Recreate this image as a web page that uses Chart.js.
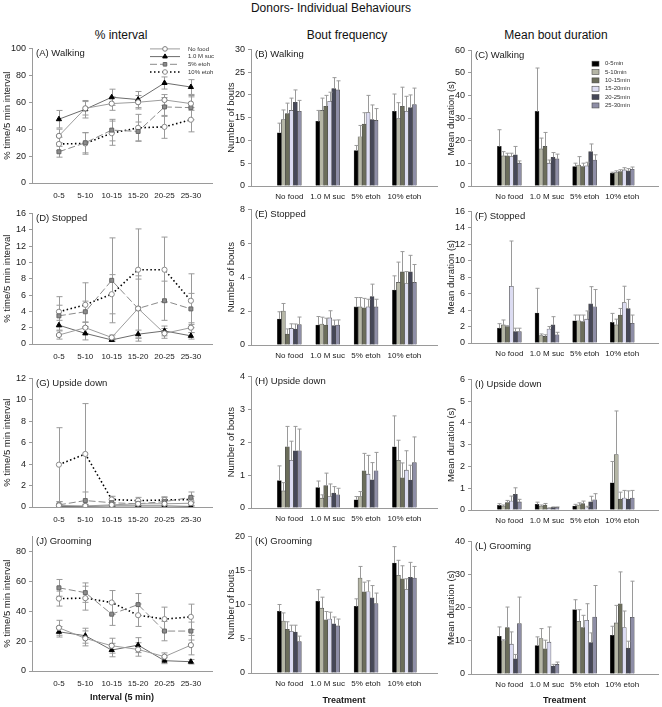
<!DOCTYPE html>
<html lang="en">
<head>
<meta charset="UTF-8" />
<title>Donors- Individual Behaviours</title>
<script src="https://cdn.jsdelivr.net/npm/chart.js"></script>
<style>
  body { margin: 0; background: #fff; font-family: "Liberation Sans", Arial, sans-serif; }
  #page { position: relative; width: 662px; height: 707px; overflow: hidden; }
  canvas { position: absolute; }
  .hdr { position: absolute; transform: translate(-50%, -50%); white-space: nowrap; color: #111; font-size: 12px; }
</style>
</head>
<body>
<div id="page">
  <div class="hdr" style="left:331px;top:8px">Donors- Individual Behaviours</div>
  <div class="hdr" style="left:121px;top:35px">% interval</div>
  <div class="hdr" style="left:347px;top:35px">Bout frequency</div>
  <div class="hdr" style="left:556px;top:35px">Mean bout duration</div>
</div>
<script>
// categories
const intervals = ['0-5', '5-10', '10-15', '15-20', '20-25', '25-30'];
const treatments = ['No food', '1.0 M suc', '5% etoh', '10% etoh'];
const bins = ['0-5min', '5-10min', '10-15min', '15-20min', '20-25min', '25-30min'];

// % interval: rows = No food, 1.0 M suc, 5% etoh, 10% etoh; cols = intervals
const walkPct = [
  [35, 55.5, 59, 60, 61.7, 59],
  [47.4, 54.8, 63.7, 62, 74.3, 71.3],
  [23.2, 29.9, 39.3, 38.3, 56.5, 56],
  [29, 29.4, 37, 41, 41.7, 47]
];
const walkPctErr = [
  [5, 5, 5, 5, 4, 5],
  [6.5, 6.5, 6, 6, 4.5, 5.5],
  [4, 7.5, 8, 7, 7, 9],
  [5, 8, 9, 10, 8.5, 9]
];
const stopPct = [
  [1.1, 2.0, 0.8, 4.35, 1.3, 2.0],
  [2.3, 1.3, 0.5, 1.2, 1.6, 1.0],
  [3.45, 3.95, 7.8, 4.35, 5.3, 4.3],
  [3.95, 4.8, 6.1, 9.1, 9.1, 5.3]
];
const stopPctErr = [
  [0.5, 0.7, 0.3, 4, 0.6, 0.6],
  [0.6, 0.8, 0.2, 0.5, 0.6, 0.4],
  [1.3, 1.3, 5.2, 3.6, 2.4, 1.9],
  [1.85, 2.7, 2.4, 5, 4, 3.3]
];
const upPct = [
  [0.15, 0.1, 0.2, 0.3, 0.3, 0.35],
  [0.05, 0.05, 0.1, 0.1, 0.1, 0.05],
  [0.2, 0.6, 0.4, 0.3, 0.5, 0.9],
  [3.95, 4.95, 0.7, 0.6, 0.65, 0.7]
];
const upPctErr = [
  [0.1, 0.1, 0.15, 0.2, 0.2, 0.2],
  [0.05, 0.05, 0.05, 0.05, 0.05, 0.05],
  [0.3, 0.8, 0.4, 0.3, 0.4, 0.5],
  [3.45, 4.7, 0.3, 0.3, 0.3, 0.3]
];
const groomPct = [
  [28.9, 21.8, 16.9, 14.4, 9.6, 17.3],
  [26.2, 23.6, 14, 17.3, 6.9, 6.2],
  [55.6, 52.4, 38, 44.4, 26.7, 26.7],
  [48.4, 48.7, 45.8, 37.3, 34.7, 36.2]
];
const groomPctErr = [
  [5, 5, 5, 4.5, 2.5, 6.5],
  [3.5, 5, 4.5, 5, 2, 1.5],
  [5.6, 6.5, 7.5, 7.4, 6.5, 6],
  [5, 8, 8, 7.5, 8, 8.5]
];

// bout frequency: rows = treatments; cols = time bins
const walkBouts = [
  [11.7, 14.6, 15.9, 16.6, 18.4, 16.4],
  [14.2, 16.6, 17.5, 18.6, 21.4, 21.1],
  [7.8, 10.8, 13.6, 16.1, 14.6, 14.4],
  [16.4, 14.8, 17.5, 16.4, 17.2, 17.9]
];
const walkBoutsErr = [
  [2.1, 2.1, 2.3, 2.7, 2.7, 2.4],
  [2.4, 2.7, 2.4, 2.0, 2.4, 2.0],
  [1.1, 2.5, 2.5, 3.8, 3.2, 2.6],
  [3.8, 3.5, 4.2, 3.3, 2.8, 3.6]
];
const stopBouts = [
  [1.53, 2.0, 0.65, 0.98, 0.94, 1.2],
  [1.18, 1.24, 1.18, 1.6, 1.14, 1.18],
  [2.25, 2.25, 2.2, 2.25, 2.86, 2.25],
  [3.24, 3.69, 4.31, 3.63, 4.31, 3.69]
];
const stopBoutsErr = [
  [0.43, 0.45, 0.3, 0.27, 0.3, 0.45],
  [0.5, 0.4, 0.4, 0.42, 0.33, 0.3],
  [0.55, 0.55, 0.55, 0.45, 0.73, 0.45],
  [0.84, 1.2, 1.2, 0.7, 0.98, 1.06]
];
const upBouts = [
  [0.83, 0.52, 1.86, 1.45, 1.74, 1.74],
  [0.62, 0.3, 0.68, 0.35, 0.45, 0.4],
  [0.25, 0.35, 1.13, 1.03, 0.86, 1.13],
  [1.86, 1.45, 0.92, 1.15, 0.85, 1.38]
];
const upBoutsErr = [
  [0.45, 0.25, 0.62, 0.58, 0.74, 0.66],
  [0.2, 0.1, 0.38, 0.38, 0.2, 0.2],
  [0.1, 0.15, 0.53, 0.57, 0.52, 0.56],
  [0.94, 0.61, 0.45, 0.59, 0.45, 0.78]
];
const groomBouts = [
  [9.03, 7.6, 6.4, 6.1, 6.0, 4.6],
  [10.5, 9.5, 7.8, 7.9, 7.2, 6.9],
  [9.76, 13.9, 11.9, 11.9, 11.0, 10.15],
  [16.1, 14.3, 13.8, 12.2, 14.0, 13.9]
];
const groomBoutsErr = [
  [1.0, 1.2, 1.1, 0.9, 1.0, 0.8],
  [1.7, 1.6, 1.2, 1.0, 1.0, 1.0],
  [1.1, 1.7, 1.4, 1.6, 1.8, 1.55],
  [2.4, 2.2, 1.9, 1.6, 2.2, 1.7]
];

// mean bout duration (s): rows = treatments; cols = time bins
const walkDur = [
  [17.5, 13.3, 13.3, 13.0, 13.8, 10.1],
  [33.0, 16.4, 17.5, 10.1, 12.7, 12.0],
  [8.6, 9.3, 8.6, 8.9, 15.2, 11.5],
  [5.6, 5.9, 6.4, 7.1, 6.7, 7.4]
];
const walkDurErr = [
  [7.4, 1.9, 1.2, 1.5, 3.7, 1.0],
  [19.2, 4.8, 6.2, 1.4, 2.1, 2.1],
  [1.5, 3.7, 1.5, 1.6, 3.4, 2.3],
  [0.5, 0.8, 0.8, 1.0, 1.0, 1.0]
];
const stopDur = [
  [1.8, 2.2, 2.0, 6.9, 1.4, 1.4],
  [3.65, 0.9, 0.8, 1.7, 2.2, 1.0],
  [2.7, 2.7, 2.6, 2.9, 4.75, 4.4],
  [2.5, 2.2, 3.4, 4.9, 4.2, 2.4]
];
const stopDurErr = [
  [0.55, 0.6, 0.1, 5.5, 0.4, 0.4],
  [3.0, 0.2, 0.2, 0.3, 1.0, 0.3],
  [0.7, 0.7, 0.8, 1.0, 2.1, 2.1],
  [1.1, 0.7, 0.8, 2.0, 1.1, 1.0]
];
const upDur = [
  [0.21, 0.18, 0.34, 0.41, 0.72, 0.37],
  [0.26, 0.18, 0.23, 0.08, 0.12, 0.12],
  [0.18, 0.23, 0.29, 0.1, 0.38, 0.47],
  [1.25, 2.55, 0.5, 0.55, 0.5, 0.55]
];
const upDurErr = [
  [0.08, 0.05, 0.1, 0.23, 0.3, 0.12],
  [0.1, 0.05, 0.07, 0.02, 0.02, 0.02],
  [0.08, 0.1, 0.12, 0.07, 0.25, 0.28],
  [0.98, 2.0, 0.32, 0.35, 0.38, 0.35]
];
const groomDur = [
  [11.4, 10.0, 14.0, 9.0, 4.6, 15.2],
  [8.6, 10.7, 7.6, 9.6, 2.4, 2.9],
  [19.4, 15.9, 14.0, 16.2, 9.5, 17.2],
  [11.7, 15.4, 21.2, 14.0, 7.8, 17.1]
];
const groomDurErr = [
  [2.8, 0.3, 6.2, 3.7, 1.3, 8.0],
  [2.6, 3.0, 2.6, 4.6, 0.5, 0.7],
  [3.0, 3.5, 3.7, 5.0, 2.9, 9.5],
  [2.7, 5.3, 9.6, 5.0, 2.1, 10.9]
];

const FONT = '"Liberation Sans", Arial, sans-serif';
const INK = '#1a1a1a';
const AXIS = '#9a9a9a';
const page = document.getElementById('page');

const lineStyles = [
  { borderColor: '#9c9c9c', borderWidth: 1, borderDash: [], pointStyle: 'circle', pointRadius: 2.6, pointBackgroundColor: '#fff', pointBorderColor: '#7c7c7c' },
  { borderColor: '#6c6c6c', borderWidth: 1, borderDash: [], pointStyle: 'triangle', pointRadius: 3, pointBackgroundColor: '#000', pointBorderColor: '#000' },
  { borderColor: '#8a8a8a', borderWidth: 1, borderDash: [7, 3], pointStyle: 'rect', pointRadius: 2.8, pointBackgroundColor: '#8c8c8c', pointBorderColor: '#666' },
  { borderColor: '#000', borderWidth: 1.6, borderDash: [1.5, 2.5], pointStyle: 'circle', pointRadius: 2.6, pointBackgroundColor: '#fff', pointBorderColor: '#8a8a8a' }
];
const barColors = ['#000000', '#b5b6a6', '#6b6d5b', '#dcdcf2', '#464858', '#8e8ea6'];

function marker(ctx, style, r, x, y) {
  ctx.beginPath();
  if (style === 'triangle') {
    for (let k = 0; k < 3; k++) {
      const a = k * 2 * Math.PI / 3;
      ctx[k ? 'lineTo' : 'moveTo'](x + Math.sin(a) * r, y - Math.cos(a) * r);
    }
    ctx.closePath();
  } else if (style === 'rect') {
    const s = r * Math.SQRT1_2;
    ctx.rect(x - s, y - s, 2 * s, 2 * s);
  } else {
    ctx.arc(x, y, r, 0, Math.PI * 2);
  }
  ctx.fill();
  ctx.stroke();
}

// error bars: whiskers for lines, upward only for bars
function drawErrors(chart) {
  const ctx = chart.ctx, ys = chart.scales.y;
  chart.data.datasets.forEach((ds, i) => {
    if (!ds.errors) return;
    const meta = chart.getDatasetMeta(i);
    ctx.save();
    ctx.strokeStyle = '#9a9a9a';
    ctx.lineWidth = 1;
    meta.data.forEach((el, j) => {
      const v = ds.data[j].y, e = ds.errors[j];
      const x = Math.round(el.x) + 0.5;
      const top = ys.getPixelForValue(v + e);
      const bot = ds.upOnly ? el.y : ys.getPixelForValue(Math.max(0, v - e));
      const c = ds.capW;
      ctx.beginPath();
      ctx.moveTo(x, top); ctx.lineTo(x, bot);
      ctx.moveTo(x - c, top); ctx.lineTo(x + c, top);
      if (!ds.upOnly) { ctx.moveTo(x - c, bot); ctx.lineTo(x + c, bot); }
      ctx.stroke();
    });
    ctx.restore();
  });
}
const errorBars = {
  id: 'errorBars',
  beforeDatasetsDraw(chart) { if (chart.config.type === 'line') drawErrors(chart); },
  afterDatasetsDraw(chart) { if (chart.config.type === 'bar') drawErrors(chart); }
};

const panelLabel = {
  id: 'panelLabel',
  afterDraw(chart, args, o) {
    const { ctx, chartArea } = chart;
    ctx.save();
    ctx.font = '9.5px ' + FONT;
    ctx.fillStyle = INK;
    ctx.textBaseline = 'middle';
    ctx.fillText(o.text, chartArea.left + 4, chartArea.top + 5);
    ctx.restore();
  }
};

const innerLegend = {
  id: 'innerLegend',
  afterDraw(chart, args, o) {
    if (!o || !o.kind) return;
    const { ctx, chartArea } = chart;
    ctx.save();
    ctx.font = '6px ' + FONT;
    ctx.textBaseline = 'middle';
    chart.data.datasets.forEach((ds, k) => {
      const y = chartArea.top + o.dy + k * o.step;
      const x = chartArea.left + o.dx;
      if (o.kind === 'line') {
        ctx.strokeStyle = ds.borderColor;
        ctx.lineWidth = ds.borderWidth;
        ctx.setLineDash(ds.borderDash);
        ctx.beginPath(); ctx.moveTo(x, y); ctx.lineTo(x + o.len, y); ctx.stroke();
        ctx.setLineDash([]);
        ctx.lineWidth = 1;
        ctx.fillStyle = ds.pointBackgroundColor;
        ctx.strokeStyle = ds.pointBorderColor;
        marker(ctx, ds.pointStyle, ds.pointRadius * 0.9, x + o.len / 2, y);
      } else {
        ctx.fillStyle = ds.backgroundColor;
        ctx.strokeStyle = '#4a4a4a';
        ctx.lineWidth = 0.6;
        ctx.fillRect(x, y - 2.5, 7, 5);
        ctx.strokeRect(x, y - 2.5, 7, 5);
      }
      ctx.fillStyle = '#333';
      ctx.fillText(ds.label, chartArea.left + o.tx, y);
    });
    ctx.restore();
  }
};

Chart.register(errorBars, panelLabel, innerLegend);

function lineSets(vals, errs) {
  return treatments.map((name, s) => Object.assign({
    label: name,
    data: intervals.map((_, i) => ({ x: i, y: vals[s][i] })),
    errors: errs[s],
    capW: 3,
    fill: false,
    tension: 0,
    pointBorderWidth: 1,
    pointHoverRadius: 0
  }, lineStyles[s]));
}

function barSets(vals, errs) {
  return bins.map((name, k) => ({
    label: name,
    data: treatments.map((_, i) => ({ x: i, y: vals[i][k] })),
    errors: treatments.map((_, i) => errs[i][k]),
    backgroundColor: barColors[k],
    borderColor: '#4a4a4a',
    borderWidth: 0.6,
    barThickness: 4,
    upOnly: true,
    capW: 2
  }));
}

function panel(p) {
  const [L, T, R, B] = p.area;
  const padTop = 8, padRight = 4;
  const cv = document.createElement('canvas');
  const w = R - L + p.yW + padRight, h = B - T + padTop + p.xH;
  cv.width = w; cv.height = h;
  cv.style.left = (L - p.yW) + 'px';
  cv.style.top = (T - padTop) + 'px';
  cv.style.width = w + 'px';
  cv.style.height = h + 'px';
  page.appendChild(cv);
  const labels = p.labels;
  return new Chart(cv, {
    type: p.type,
    data: { datasets: p.datasets },
    options: {
      responsive: false,
      maintainAspectRatio: false,
      animation: false,
      devicePixelRatio: 1,
      layout: { padding: { top: padTop, right: padRight, left: 0, bottom: 0 } },
      plugins: {
        legend: { display: false },
        tooltip: { enabled: false },
        panelLabel: { text: p.letter },
        innerLegend: p.legend || false
      },
      scales: {
        x: {
          type: 'linear', min: p.xMin, max: p.xMax, offset: false,
          afterBuildTicks: s => { s.ticks = labels.map((_, i) => ({ value: i })); },
          afterFit: s => { s.height = p.xH; },
          grid: { display: false, drawTicks: false, tickLength: 0 },
          border: { color: AXIS },
          ticks: {
            autoSkip: false, maxRotation: 0, minRotation: 0, padding: p.xPad,
            color: INK, font: { size: 8, family: FONT },
            callback: v => labels[v]
          },
          title: {
            display: !!p.xTitle, text: p.xTitle || '', color: INK,
            font: { size: 9, weight: 'bold', family: FONT },
            padding: { top: 0, bottom: p.xTitlePad || 0 }
          }
        },
        y: {
          min: 0, max: p.yMax,
          afterBuildTicks: s => {
            s.ticks = s.ticks.filter(t => Math.abs(t.value / p.yStep - Math.round(t.value / p.yStep)) < 1e-6);
          },
          afterFit: s => { s.width = p.yW; },
          grid: { drawOnChartArea: false, tickLength: 3, color: AXIS },
          border: { color: AXIS },
          ticks: { stepSize: p.yStep, padding: 3, color: INK, font: { size: 9, family: FONT } },
          title: {
            display: true, text: p.yTitle, color: INK,
            font: { size: 9.5, family: FONT },
            padding: { top: p.yTitlePad, bottom: 0 }
          }
        }
      }
    }
  });
}

const col1 = { type: 'line', labels: intervals, yW: 32, xMin: -1.02, xMax: 5.8, xPad: 8, yTitle: '% time/5 min interval', yTitlePad: 2 };
const col2 = { type: 'bar', labels: treatments, yW: 30, xMin: -1, xMax: 3.85, xPad: 6, yTitle: 'Number of bouts', yTitlePad: 4.5 };
const col3 = { type: 'bar', labels: treatments, yW: 30, xMin: -1.02, xMax: 3.95, xPad: 6, yTitle: 'Mean duration (s)', yTitlePad: 4.5 };

// column 1: % interval
panel(Object.assign({}, col1, { area: [32, 48, 212, 183], xH: 22, yMax: 100, yStep: 20, letter: '(A) Walking',
  datasets: lineSets(walkPct, walkPctErr),
  legend: { kind: 'line', dx: 118, dy: 0.5, step: 7.7, len: 30, tx: 156 } }));
panel(Object.assign({}, col1, { area: [32, 213, 212, 344], xH: 22, yMax: 16, yStep: 2, letter: '(D) Stopped',
  datasets: lineSets(stopPct, stopPctErr) }));
panel(Object.assign({}, col1, { area: [32, 378, 212, 507], xH: 22, yMax: 12, yStep: 2, letter: '(G) Upside down',
  datasets: lineSets(upPct, upPctErr) }));
panel(Object.assign({}, col1, { area: [32, 536, 212, 671], xH: 36, yMax: 90, yStep: 20, letter: '(J) Grooming',
  datasets: lineSets(groomPct, groomPctErr), xTitle: 'Interval (5 min)', xTitlePad: 3.6 }));

// column 2: bout frequency
panel(Object.assign({}, col2, { area: [251, 49, 437, 186], xH: 22, yMax: 30, yStep: 5, letter: '(B) Walking',
  datasets: barSets(walkBouts, walkBoutsErr) }));
panel(Object.assign({}, col2, { area: [251, 209, 437, 345], xH: 22, yMax: 8, yStep: 2, letter: '(E) Stopped',
  datasets: barSets(stopBouts, stopBoutsErr) }));
panel(Object.assign({}, col2, { area: [251, 376, 437, 508], xH: 22, yMax: 4, yStep: 1, letter: '(H) Upside down',
  datasets: barSets(upBouts, upBoutsErr) }));
panel(Object.assign({}, col2, { area: [251, 536, 437, 673], xH: 34, yMax: 20, yStep: 5, letter: '(K) Grooming',
  datasets: barSets(groomBouts, groomBoutsErr), xTitle: 'Treatment', xTitlePad: 1 }));

// column 3: mean bout duration
panel(Object.assign({}, col3, { area: [471, 50, 658, 186], xH: 22, yMax: 60, yStep: 10, letter: '(C) Walking',
  datasets: barSets(walkDur, walkDurErr),
  legend: { kind: 'bar', dx: 121, dy: 13.3, step: 8.35, tx: 134 } }));
panel(Object.assign({}, col3, { area: [471, 211, 658, 343], xH: 22, yMax: 16, yStep: 2, letter: '(F) Stopped',
  datasets: barSets(stopDur, stopDurErr) }));
panel(Object.assign({}, col3, { area: [471, 379, 658, 510], xH: 22, yMax: 6, yStep: 1, letter: '(I) Upside down',
  datasets: barSets(upDur, upDurErr) }));
panel(Object.assign({}, col3, { area: [471, 541, 658, 674], xH: 33, yMax: 40, yStep: 10, letter: '(L) Grooming',
  datasets: barSets(groomDur, groomDurErr), xTitle: 'Treatment', xTitlePad: 1 }));
</script>
</body>
</html>
